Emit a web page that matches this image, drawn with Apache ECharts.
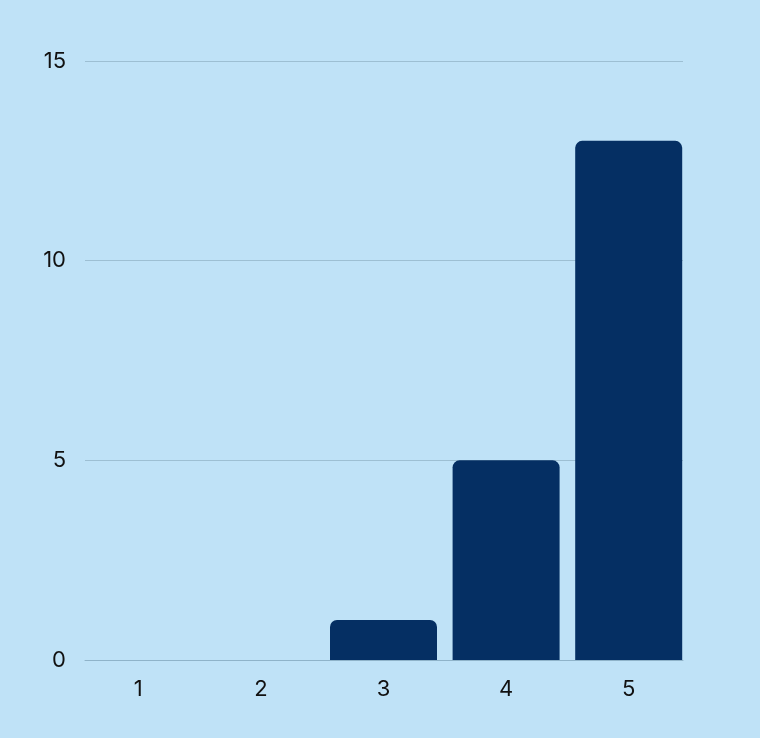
<!DOCTYPE html>
<html><head><meta charset="utf-8">
<script src="https://cdn.jsdelivr.net/npm/echarts@6/dist/echarts.min.js"></script>
<style>html,body{margin:0;padding:0;background:#BFE2F7;}#c{width:760px;height:738px;}</style>
</head><body><div id="c"></div>
<script>
const categories = ['1','2','3','4','5'];
const values = [0, 0, 1, 5, 13];
const yTicks = {min: 0, max: 15, interval: 5};
const chart = echarts.init(document.getElementById('c'));
const font = {color: '#111', fontSize: 22, fontFamily: 'Inter'};
chart.setOption({
  backgroundColor: '#BFE2F7',
  animation: false,
  grid: [
    {left: 85, right: 77, top: 61, bottom: 78},
    {left: 77, right: 70, top: 61, bottom: 78}
  ],
  xAxis: [
    {gridIndex: 0, type: 'value', min: 0, max: 1, show: true,
     axisLine: {show: true, onZero: false, lineStyle: {color: '#8FB3C9', width: 1}},
     axisTick: {show: false}, axisLabel: {show: false}, splitLine: {show: false}},
    {gridIndex: 1, type: 'category', data: categories,
     axisLine: {show: false}, axisTick: {show: false},
     axisLabel: Object.assign({margin: 18}, font)}
  ],
  yAxis: [
    {gridIndex: 0, type: 'value', min: yTicks.min, max: yTicks.max, interval: yTicks.interval,
     axisLine: {show: false}, axisTick: {show: false},
     splitLine: {lineStyle: {color: '#9DBFD3', width: 1}},
     axisLabel: Object.assign({margin: 19}, font)},
    {gridIndex: 1, type: 'value', min: yTicks.min, max: yTicks.max, interval: yTicks.interval,
     show: false}
  ],
  series: [{
    type: 'bar', data: values, xAxisIndex: 1, yAxisIndex: 1, barWidth: 107,
    itemStyle: {color: '#052F63', borderRadius: [7,7,0,0]}
  }]
});
</script></body></html>
